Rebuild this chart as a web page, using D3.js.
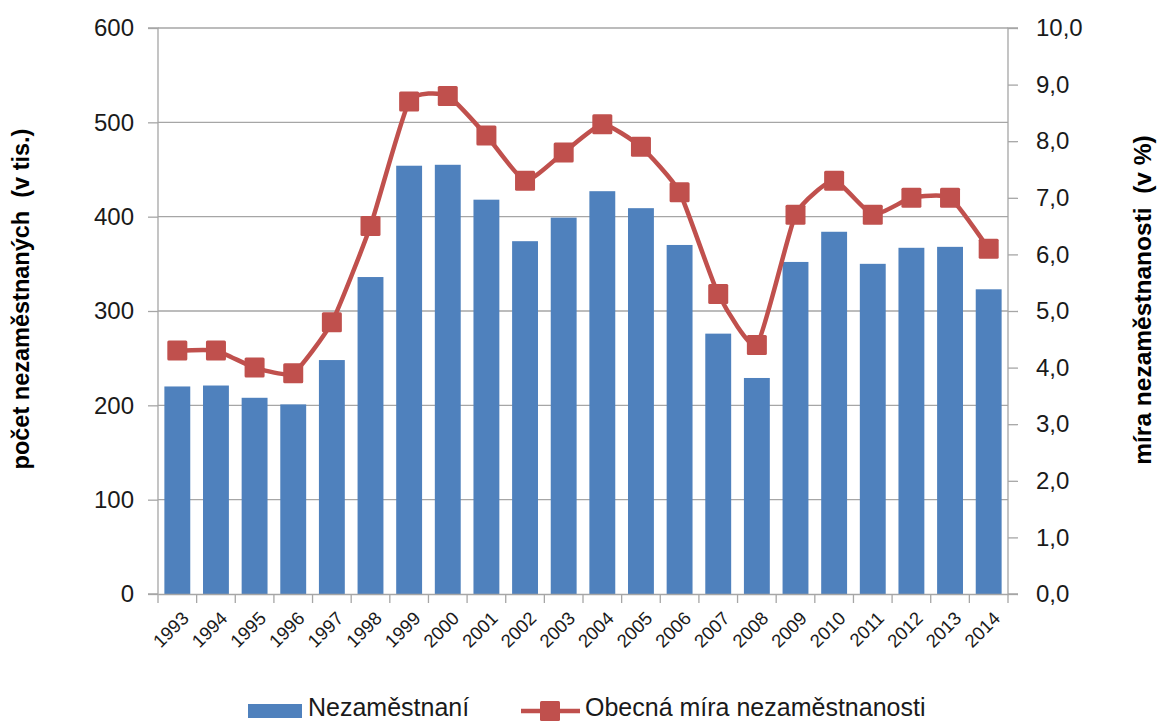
<!DOCTYPE html>
<html><head><meta charset="utf-8">
<script src="https://cdn.jsdelivr.net/npm/d3@7"></script>
<style>
body{margin:0;background:#fff;}
svg{display:block;font-family:"Liberation Sans",Arial,sans-serif;}
</style></head>
<body>
<svg id="chart" width="1157" height="722"></svg>
<script>
const years = ["1993","1994","1995","1996","1997","1998","1999","2000","2001","2002","2003","2004","2005","2006","2007","2008","2009","2010","2011","2012","2013","2014"];
const unemployed = [220,221,208,201,248,336,454,455,418,374,399,427,409,370,276,229,352,384,350,367,368,323];
const rate = [4.3,4.3,4.0,3.9,4.8,6.5,8.7,8.8,8.1,7.3,7.8,8.3,7.9,7.1,5.3,4.4,6.7,7.3,6.7,7.0,7.0,6.1];
const leftTicks = [0,100,200,300,400,500,600];
const rightTicks = [0,1,2,3,4,5,6,7,8,9,10];
const leftTitle = "počet nezaměstnaných  (v tis.)";
const rightTitle = "míra nezaměstnanosti  (v %)";
const legendLabels = ["Nezaměstnaní","Obecná míra nezaměstnanosti"];

const barColor = "#4F81BD", lineColor = "#C0504D", gridColor = "#A6A6A6";
const L = 158, R = 1008, T = 28, B = 594;
const svg = d3.select("#chart");

const x = d3.scaleBand().domain(years).range([L, R]).paddingInner(0.33).paddingOuter(0.165);
const xb = d3.scaleBand().domain(years).range([L, R]);
const yL = d3.scaleLinear().domain([0,600]).range([B, T]);
const yR = d3.scaleLinear().domain([0,10]).range([B, T]);

// gridlines
svg.append("g").selectAll("line").data(leftTicks.filter(d=>d>0)).join("line")
  .attr("x1", L).attr("x2", R).attr("y1", d=>yL(d)).attr("y2", d=>yL(d))
  .attr("stroke", gridColor).attr("stroke-width", 1.3);

// bars
svg.append("g").selectAll("rect").data(years).join("rect")
  .attr("x", d=>x(d)).attr("width", x.bandwidth())
  .attr("y", (d,i)=>yL(unemployed[i])).attr("height", (d,i)=>B - yL(unemployed[i]))
  .attr("fill", barColor);

// left axis
const gL = svg.append("g").attr("transform", `translate(${L},0)`)
  .call(d3.axisLeft(yL).tickValues(leftTicks).tickSize(10).tickPadding(14).tickFormat(d3.format("d")));
// right axis
const gR = svg.append("g").attr("transform", `translate(${R},0)`)
  .call(d3.axisRight(yR).tickValues(rightTicks).tickSize(10).tickPadding(18).tickFormat(d=>d.toFixed(1).replace(".",",")));
// bottom axis
const gB = svg.append("g").attr("transform", `translate(0,${B})`)
  .call(d3.axisBottom(xb).tickSize(8).tickSizeOuter(0).tickFormat(""));
gB.selectAll(".tick").remove();
gB.selectAll("line.bt").data(years.concat(["end"])).join("line").attr("class","bt")
  .attr("x1",(d,i)=> i<years.length ? xb(d) : R).attr("x2",(d,i)=> i<years.length ? xb(d) : R)
  .attr("y1",0).attr("y2",9).attr("stroke",gridColor).attr("stroke-width",1.3);

[gL,gR,gB].forEach(g=>{
  g.select(".domain").attr("stroke", gridColor).attr("stroke-width",1.3);
  g.selectAll(".tick line").attr("stroke", gridColor).attr("stroke-width",1.3);
  g.selectAll(".tick text").attr("fill","#1a1a1a").style("font-size","24px");
});
gR.select(".domain").attr("d", `M10,${T}H0V${B}H10`);
gL.select(".domain").attr("d", `M-10,${T}H0V${B}H-10`);

// year labels
svg.append("g").selectAll("text").data(years).join("text")
  .attr("transform", d=>`translate(${xb(d)+xb.bandwidth()/2+8},${B+21}) rotate(-45)`)
  .attr("text-anchor","end").attr("dy","0.35em")
  .style("font-size","18.5px").attr("fill","#1a1a1a").text(d=>d);

// line
const line = d3.line().x((d,i)=>xb(years[i])+xb.bandwidth()/2).y(d=>yR(d)).curve(d3.curveCardinal.tension(0.5));
svg.append("path").datum(rate).attr("d", line)
  .attr("fill","none").attr("stroke", lineColor).attr("stroke-width", 4.5);
const ms = 20;
svg.append("g").selectAll("rect").data(rate).join("rect")
  .attr("x",(d,i)=>xb(years[i])+xb.bandwidth()/2-ms/2).attr("y",d=>yR(d)-ms/2)
  .attr("width",ms).attr("height",ms).attr("rx",1.5).attr("fill",lineColor);

// axis titles
svg.append("text").attr("transform","translate(29,299) rotate(-90)")
  .attr("text-anchor","middle").style("font-size","23.5px").style("font-weight","bold")
  .style("white-space","pre").attr("fill","#000").text(leftTitle);
svg.append("text").attr("transform","translate(1151,300) rotate(-90)")
  .attr("text-anchor","middle").style("font-size","24.5px").style("font-weight","bold")
  .style("white-space","pre").attr("fill","#000").text(rightTitle);

// legend
const lg = svg.append("g");
lg.append("rect").attr("x",248).attr("y",704).attr("width",54).attr("height",14).attr("fill",barColor);
lg.append("text").attr("x",308).attr("y",716).style("font-size","25px").attr("fill","#1a1a1a").text(legendLabels[0]);
lg.append("line").attr("x1",521).attr("x2",580).attr("y1",711).attr("y2",711).attr("stroke",lineColor).attr("stroke-width",4.5);
lg.append("rect").attr("x",550-ms/2).attr("y",711-ms/2).attr("width",ms).attr("height",ms).attr("rx",1.5).attr("fill",lineColor);
lg.append("text").attr("x",585).attr("y",716).style("font-size","25px").attr("fill","#1a1a1a").text(legendLabels[1]);
</script>
</body></html>
